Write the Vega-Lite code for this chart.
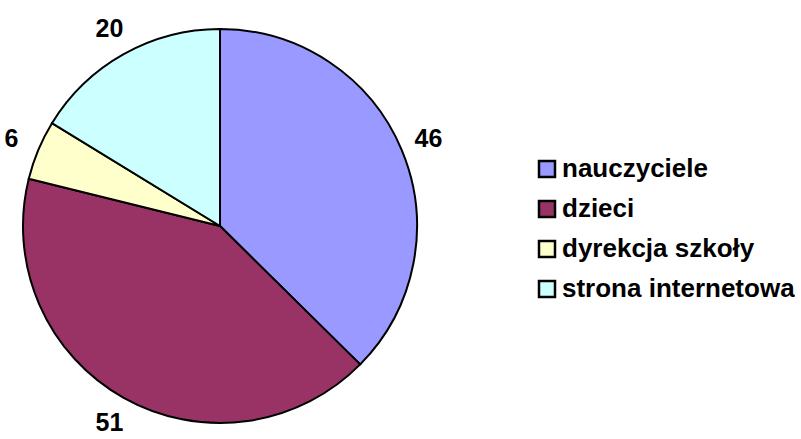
{
  "$schema": "https://vega.github.io/schema/vega-lite/v6.json",
  "width": 440,
  "height": 452,
  "padding": 0,
  "autosize": {"type": "pad"},
  "background": "white",
  "data": {"values": [
    {"kat": "nauczyciele", "n": 46, "i": 1},
    {"kat": "dzieci", "n": 51, "i": 2},
    {"kat": "dyrekcja szkoły", "n": 6, "i": 3},
    {"kat": "strona internetowa", "n": 20, "i": 4}
  ]},
  "encoding": {
    "theta": {"field": "n", "type": "quantitative", "stack": true},
    "order": {"field": "i", "type": "quantitative"},
    "color": {
      "field": "kat", "type": "nominal",
      "scale": {"domain": ["nauczyciele", "dzieci", "dyrekcja szkoły", "strona internetowa"],
                "range": ["#9999FF", "#993366", "#FFFFCC", "#CCFFFF"]},
      "legend": {
        "title": null, "orient": "none", "legendX": 534, "legendY": 156,
        "symbolType": "square", "symbolSize": 256, "symbolStrokeColor": "black", "symbolStrokeWidth": 2.5,
        "symbolOpacity": 1,
        "labelFont": "Liberation Sans", "labelFontWeight": 700, "labelFontSize": 26, "labelColor": "black",
        "labelOffset": 2, "rowPadding": 14, "padding": 0, "labelLimit": 400
      }
    }
  },
  "layer": [
    {"mark": {"type": "arc", "radius": 197, "stroke": "black", "strokeWidth": 2}},
    {"mark": {"type": "text", "radius": 226, "font": "Liberation Sans", "fontWeight": "bold", "fontSize": 25, "color": "black"},
     "encoding": {"text": {"field": "n", "type": "quantitative"}, "color": {"value": "black"}}}
  ],
  "config": {"view": {"stroke": null}, "legend": {"labelFontWeight": 700, "labelFont": "Liberation Sans"}}
}
